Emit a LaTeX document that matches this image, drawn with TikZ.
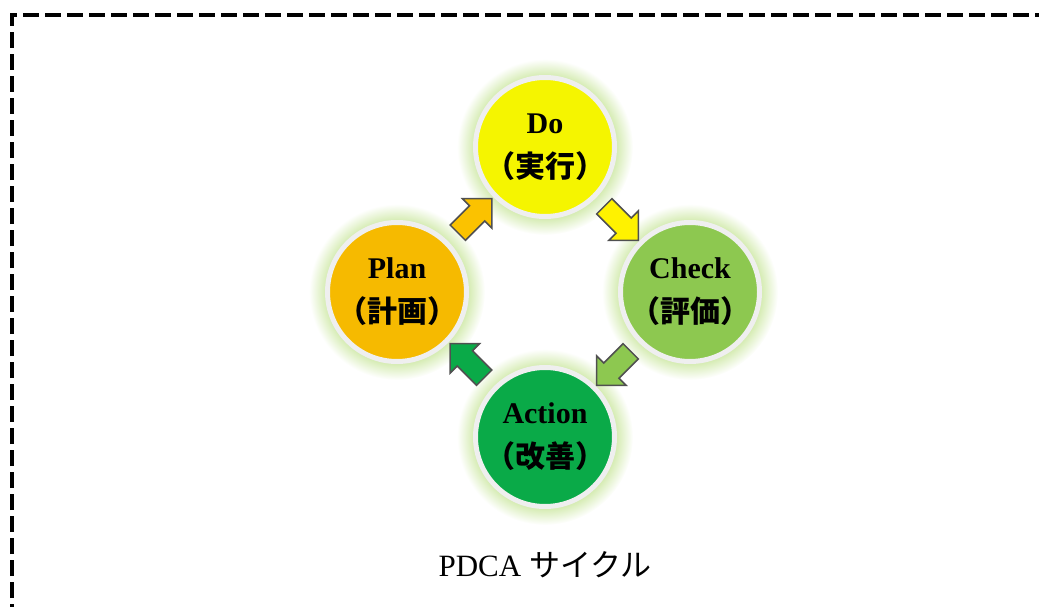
\documentclass[tikz,border=0pt]{standalone}
\usepackage{fontspec}
\setmainfont{Liberation Serif}
\newfontfamily\jpfont{Noto Sans CJK JP}
\usetikzlibrary{shapes.arrows, calc, backgrounds}

\definecolor{docol}{HTML}{F5F500}
\definecolor{checkcol}{HTML}{8DC850}
\definecolor{actcol}{HTML}{0AAA48}
\definecolor{plancol}{HTML}{F6BA00}
\definecolor{ringgray}{HTML}{EFEFEF}
\definecolor{edgegray}{HTML}{505050}
\definecolor{halogreen}{HTML}{D6ECB4}
\pgfdeclareradialshading{halo}{\pgfpoint{0cm}{0cm}}{color(0bp)=(halogreen); color(20.4bp)=(halogreen); color(25bp)=(white); color(50bp)=(white)}

\begin{document}
\begin{tikzpicture}[x=1pt, y=-1pt,
		phase/.style={circle, minimum size=139pt, inner sep=0pt, draw=ringgray, line width=5pt, align=center, font=\fontsize{30}{44}\selectfont\bfseries},
		turn/.style={single arrow, draw=edgegray, line width=1.5pt, inner xsep=0pt, inner ysep=10pt, minimum height=48pt, single arrow head extend=10pt, single arrow tip angle=90}]
			\useasboundingbox (0,0) rectangle (1039,607);
			\clip (0,0) rectangle (1039,607);
			\draw[line width=4pt, dash pattern=on 16pt off 6pt] (12,620) |- (1060,15);

			\node[phase, fill=docol] (do) at (545,147) {Do\\{\jpfont （実行）}};
			\node[phase, fill=checkcol] (check) at (690,292) {Check\\{\jpfont （評価）}};
			\node[phase, fill=actcol] (action) at (545,437) {Action\\{\jpfont （改善）}};
			\node[phase, fill=plancol] (plan) at (397,292) {Plan\\{\jpfont （計画）}};

			\begin{scope}[on background layer]
				\foreach \n in {do, check, action, plan}
					\shade[shading=halo] (\n) circle[radius=88pt];
			\end{scope}

			\node[turn, fill=plancol!70!orange!70!yellow, rotate=45] (pd) at ($(plan)!0.5!(do)$) {};
			\node[turn, fill=yellow, rotate=-45] (dc) at ($(do)!0.5!(check)$) {};
			\node[turn, fill=checkcol, rotate=-135] (ca) at ($(check)!0.5!(action)$) {};
			\node[turn, fill=actcol, rotate=135] (ap) at ($(action)!0.5!(plan)$) {};

			\node[font=\fontsize{31}{36}\selectfont] (title) at (545,565) {PDCA {\jpfont サイクル}};
		\end{tikzpicture}
\end{document}
